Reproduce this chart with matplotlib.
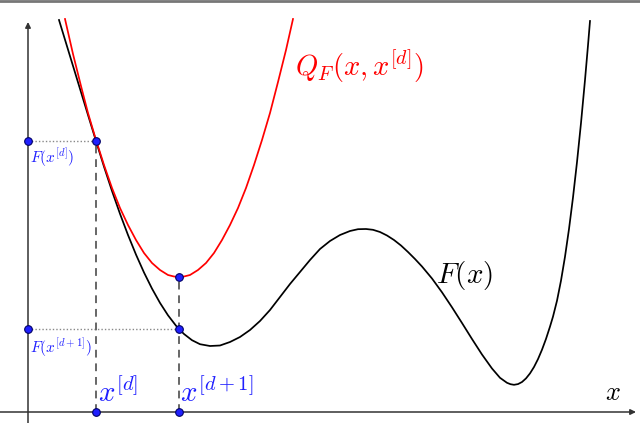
import numpy as np
import matplotlib
matplotlib.use("Agg")
import matplotlib.pyplot as plt
from matplotlib.lines import Line2D

plt.rcParams['mathtext.fontset'] = 'cm'

# F(x), points
f_x = [3.1, 4.0, 5.0, 6.0, 6.8, 7.6, 8.4, 9.2, 10.0, 10.8, 11.6, 12.4, 13.2,
       14.0, 14.8, 15.1, 15.6, 16.4, 17.2, 18.2, 19.2, 20.2, 21.2, 22.2, 23.2,
       24.2, 25.2, 26.2, 27.2, 28.2, 29.2, 30.2, 31.2, 32.2, 33.0, 33.8, 34.5,
       35.2, 35.9, 36.6, 37.3, 38.0, 38.7, 39.4, 40.4, 41.4, 42.4, 43.4, 44.4,
       45.4, 46.4, 47.2, 47.9, 48.25, 48.6, 49.0, 49.4, 49.8, 50.2, 50.6, 51.0,
       51.4, 51.8, 52.2, 52.5, 52.9, 53.3, 53.7, 54.1, 54.5, 54.9, 55.3, 55.7,
       56.0, 56.2]
f_y = [39.2, 36.25, 32.97, 29.7, 27.1, 24.53, 22.1, 19.82, 17.7, 15.74, 13.95,
       12.34, 10.91, 9.67, 8.63, 8.3, 7.8, 7.18, 6.78, 6.6, 6.65, 7.0, 7.5, 8.2,
       9.1, 10.2, 11.5, 12.8, 14.0, 15.2, 16.3, 17.1, 17.7, 18.1, 18.28, 18.3,
       18.22, 18.0, 17.65, 17.2, 16.65, 16.0, 15.3, 14.55, 13.35, 11.97, 10.47,
       8.9, 7.3, 5.75, 4.35, 3.42, 2.92, 2.78, 2.72, 2.79, 3.0, 3.36, 3.86, 4.5,
       5.29, 6.23, 7.31, 8.54, 9.54, 11.13, 13.14, 15.53, 18.3, 21.46, 24.99,
       28.9, 33.2, 36.67, 39.1]

# Q_F(x, x[d]), points
q_x = [3.7, 4.5, 5.3, 6.0, 6.8, 7.6, 8.4, 9.2, 10.0, 10.8, 11.6, 12.4, 13.2,
       14.0, 14.6, 15.1, 15.6, 16.2, 17.0, 17.8, 18.6, 19.4, 20.2, 21.0, 21.8,
       22.6, 23.4, 24.2, 25.0, 25.8, 26.5]
q_y = [39.3, 35.8, 32.6, 29.9, 27.2, 24.7, 22.4, 20.4, 18.7, 17.2, 15.9, 14.9,
       14.2, 13.7, 13.55, 13.5, 13.55, 13.7, 14.2, 14.9, 15.9, 17.2, 18.7, 20.4,
       22.4, 24.7, 27.2, 29.9, 33.0, 36.2, 39.3]

x_d, x_d1 = 6.8, 15.1
F_d, F_d1 = 27.1, 8.3
Q_d1 = 13.5

blue = '#1f1fff'
fig = plt.figure(figsize=(6.4, 4.23), dpi=100)
ax = fig.add_axes([0, 0, 1, 1])
ax.set_xlim(-2.8, 61.2)
ax.set_ylim(-1.1, 41.2)
ax.axis('off')

# axes with arrows
ax.annotate('', xy=(0, 39.0), xytext=(0, -1.1),
            arrowprops=dict(arrowstyle='-|>', color='#333333', lw=1.1,
                            mutation_scale=8, shrinkA=0, shrinkB=0))
ax.annotate('', xy=(60.8, 0), xytext=(-2.8, 0),
            arrowprops=dict(arrowstyle='-|>', color='#333333', lw=1.1,
                            mutation_scale=8, shrinkA=0, shrinkB=0))

# helper lines
ax.plot([0, x_d], [F_d, F_d], color='#888888', lw=1, ls=(0, (1, 1.5)))
ax.plot([0, x_d1], [F_d1, F_d1], color='#888888', lw=1, ls=(0, (1, 1.5)))
ax.plot([x_d, x_d], [0, F_d], color='#666666', lw=1.4, ls=(0, (4, 3)))
ax.plot([x_d1, x_d1], [0, Q_d1], color='#666666', lw=1.4, ls=(0, (4, 3)))

ax.plot(f_x, f_y, color='black', lw=1.25, solid_joinstyle='round')
ax.plot(q_x, q_y, color='red', lw=1.25, solid_joinstyle='round')

px = [0, x_d, 0, x_d1, x_d1, x_d, x_d1]
py = [F_d, F_d, F_d1, F_d1, Q_d1, 0, 0]
ax.plot(px, py, 'o', color=blue, mec='#000066', mew=0.8, ms=5.5, zorder=5)

# labels
ax.text(26.7, 33.6, r'$Q_F(x,x^{[d]})$', color='red', fontsize=20.5)
ax.text(40.8, 12.9, r'$F(x)$', color='black', fontsize=21)
ax.text(57.7, 1.2, r'$x$', color='black', fontsize=19)
ax.text(7.0, 1.0, r'$x^{[d]}$', color=blue, fontsize=21)
ax.text(15.2, 1.0, r'$x^{[d+1]}$', color=blue, fontsize=21)
ax.text(0.2, 24.9, r'$F(x^{[d]})$', color=blue, fontsize=11)
ax.text(0.2, 5.9, r'$F(x^{[d+1]})$', color=blue, fontsize=11)

fig.add_artist(Line2D([0, 1], [0.997, 0.997], color='#777777', lw=2,
                      transform=fig.transFigure))

fig.savefig('out.png', dpi=100)
